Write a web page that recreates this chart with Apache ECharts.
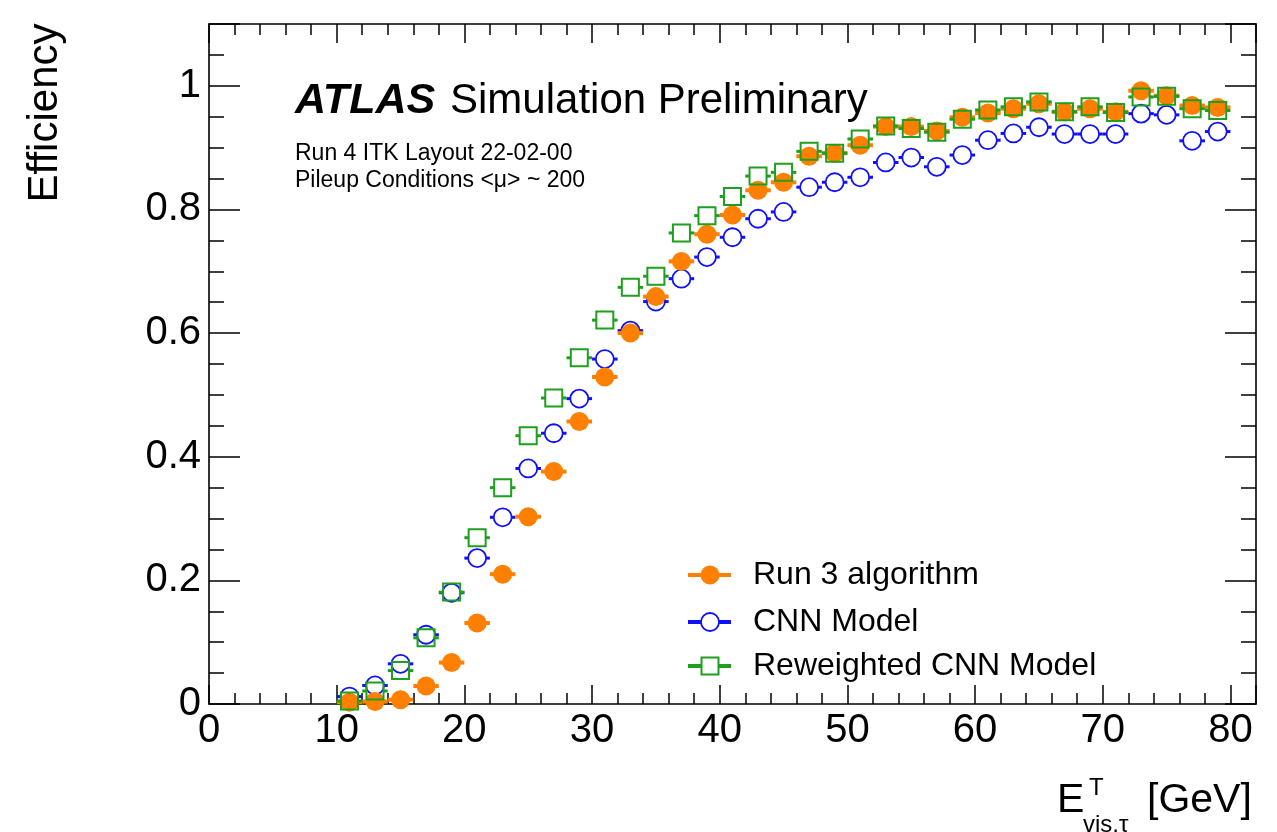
<!DOCTYPE html>
<html>
<head>
<meta charset="utf-8">
<script src="https://cdn.jsdelivr.net/npm/echarts@6/dist/echarts.min.js"></script>
<style>
html,body{margin:0;padding:0;background:#fff;}
#main{width:1277px;height:832px;}
</style>
</head>
<body>
<div id="main"></div>
<script>
// ---- data ----
var binCenters = [11,13,15,17,19,21,23,25,27,29,31,33,35,37,39,41,43,45,47,49,51,53,55,57,59,61,63,65,67,69,71,73,75,77,79];
var binHalfWidth = 1;
var run3Eff = [0.003,0.004,0.007,0.029,0.067,0.131,0.210,0.303,0.376,0.457,0.529,0.600,0.659,0.716,0.760,0.791,0.831,0.844,0.886,0.891,0.904,0.934,0.934,0.927,0.949,0.956,0.963,0.971,0.958,0.963,0.958,0.992,0.984,0.968,0.965];
var cnnEff = [0.012,0.030,0.065,0.112,0.180,0.236,0.302,0.381,0.438,0.494,0.558,0.604,0.651,0.688,0.723,0.755,0.785,0.796,0.836,0.844,0.852,0.876,0.884,0.869,0.888,0.912,0.923,0.933,0.922,0.922,0.922,0.955,0.953,0.911,0.926];
var rwCnnEff = [0.005,0.021,0.054,0.107,0.181,0.269,0.350,0.434,0.495,0.560,0.621,0.674,0.692,0.762,0.790,0.821,0.854,0.860,0.894,0.891,0.914,0.935,0.931,0.925,0.946,0.961,0.966,0.974,0.958,0.966,0.957,0.982,0.983,0.963,0.960];
var seriesNames = ['Run 3 algorithm','CNN Model','Reweighted CNN Model'];
var xTickLabels = ['0','10','20','30','40','50','60','70','80'];
var yTickLabels = ['0','0.2','0.4','0.6','0.8','1'];

// ---- style ----
var FONT = '"Liberation Sans", Arial, Helvetica, sans-serif';
var C_ORANGE = '#ff8000', C_BLUE = '#1010ff', C_GREEN = '#1f9f1f';

function pairs(ys){ return binCenters.map(function(x,i){ return [x, ys[i]]; }); }

function makeRender(kind, color, lw, r){
  return function(params, api){
    var x = api.value(0), y = api.value(1);
    var c = api.coord([x, y]);
    var l = api.coord([x - binHalfWidth, y]);
    var rt = api.coord([x + binHalfWidth, y]);
    var ch = [];
    var ls = {stroke: color, lineWidth: lw};
    if (kind === 'filled') {
      ch.push({type:'line', shape:{x1:l[0],y1:c[1],x2:rt[0],y2:c[1]}, style:ls});
      ch.push({type:'circle', shape:{cx:c[0],cy:c[1],r:r}, style:{fill:color}});
    } else {
      ch.push({type:'line', shape:{x1:l[0],y1:c[1],x2:c[0]-r,y2:c[1]}, style:ls});
      ch.push({type:'line', shape:{x1:c[0]+r,y1:c[1],x2:rt[0],y2:c[1]}, style:ls});
      if (kind === 'circle') {
        ch.push({type:'circle', shape:{cx:c[0],cy:c[1],r:r}, style:{fill:'none', stroke:color, lineWidth:1.8}});
      } else {
        ch.push({type:'rect', shape:{x:c[0]-r,y:c[1]-r,width:2*r,height:2*r}, style:{fill:'none', stroke:color, lineWidth:2}});
      }
    }
    return {type:'group', children: ch};
  };
}

function xAxisCfg(pos, showLabels){
  return {
    type:'value', position:pos, min:0, max:82, interval:10,
    axisLine:{show:true, onZero:false, lineStyle:{color:'#000', width:1.6}},
    axisTick:{show:true, inside:true, length:19, lineStyle:{color:'#000', width:1.5}},
    minorTick:{show:true, splitNumber:5, length:11, lineStyle:{color:'#000', width:1.5}},
    splitLine:{show:false}, minorSplitLine:{show:false},
    axisLabel:{show:showLabels, color:'#000', fontSize:40, fontFamily:FONT, margin:7,
      formatter:function(v){ var i = xTickLabels.indexOf(String(v)); return i>=0 ? xTickLabels[i] : ''; }}
  };
}
function yAxisCfg(pos, showLabels){
  return {
    type:'value', position:pos, min:0, max:1.1, interval:0.2,
    axisLine:{show:true, onZero:false, lineStyle:{color:'#000', width:1.6}},
    axisTick:{show:true, inside:true, length:31, lineStyle:{color:'#000', width:1.5}},
    minorTick:{show:true, splitNumber:4, length:15, lineStyle:{color:'#000', width:1.5}},
    splitLine:{show:false}, minorSplitLine:{show:false},
    axisLabel:{show:showLabels, color:'#000', fontSize:40, fontFamily:FONT, margin:8,
      formatter:function(v){ var k = Math.round(v/0.2); if (Math.abs(v/0.2-k)>1e-6) return ''; return yTickLabels[k] || ''; }}
  };
}

var chart = echarts.init(document.getElementById('main'), null, {renderer:'canvas'});
var option = {
  backgroundColor:'#fff',
  animation:false,
  grid:{left:209, right:21, top:24, bottom:128, outerBoundsMode:'none', containLabel:false},
  xAxis:[xAxisCfg('bottom', true), xAxisCfg('top', false)],
  yAxis:[yAxisCfg('left', true), yAxisCfg('right', false)],
  series:[
    {type:'custom', name:seriesNames[1], xAxisIndex:0, yAxisIndex:0, data:pairs(cnnEff), renderItem:makeRender('circle', C_BLUE, 3, 9), z:2},
    {type:'custom', name:seriesNames[0], xAxisIndex:0, yAxisIndex:0, data:pairs(run3Eff), renderItem:makeRender('filled', C_ORANGE, 4, 9.5), z:3},
    {type:'custom', name:seriesNames[2], xAxisIndex:0, yAxisIndex:0, data:pairs(rwCnnEff), renderItem:makeRender('square', C_GREEN, 3, 8.5), z:4}
  ],
  graphic:[
    // ATLAS label
    {type:'text', left:295, top:80, style:{text:'ATLAS', font:'italic bold 43px '+FONT, fill:'#000'}},
    {type:'text', left:450, top:80, style:{text:'Simulation Preliminary', font:'42px '+FONT, fill:'#000'}},
    {type:'text', left:295, top:142, style:{text:'Run 4 ITK Layout 22-02-00', font:'23px '+FONT, fill:'#000'}},
    {type:'text', left:295, top:169, style:{text:'Pileup Conditions <\u03bc> ~ 200', font:'23px '+FONT, fill:'#000'}},
    // y axis title
    {type:'text', x:45, y:113, rotation:Math.PI/2, style:{text:'Efficiency', font:'42px '+FONT, fill:'#000', align:'center', verticalAlign:'middle'}},
    // x axis title
    {type:'text', x:1057, y:801, style:{text:'E', font:'41px '+FONT, fill:'#000', align:'left', verticalAlign:'middle'}},
    {type:'text', x:1089, y:788, style:{text:'T', font:'24px '+FONT, fill:'#000', align:'left', verticalAlign:'middle'}},
    {type:'text', x:1083, y:825, style:{text:'vis,\u03c4', font:'24px '+FONT, fill:'#000', align:'left', verticalAlign:'middle'}},
    {type:'text', x:1147, y:801, style:{text:'[GeV]', font:'41px '+FONT, fill:'#000', align:'left', verticalAlign:'middle'}},
    // legend
    {type:'line', shape:{x1:688,y1:575,x2:731,y2:575}, style:{stroke:C_ORANGE, lineWidth:4}},
    {type:'circle', shape:{cx:710,cy:575,r:9.5}, style:{fill:C_ORANGE}},
    {type:'text', x:753, y:575, style:{text:seriesNames[0], font:'32px '+FONT, fill:'#000', verticalAlign:'middle'}},
    {type:'line', shape:{x1:688,y1:622,x2:701,y2:622}, style:{stroke:C_BLUE, lineWidth:4}},
    {type:'line', shape:{x1:719,y1:622,x2:731,y2:622}, style:{stroke:C_BLUE, lineWidth:4}},
    {type:'circle', shape:{cx:710,cy:622,r:9}, style:{fill:'none', stroke:C_BLUE, lineWidth:1.8}},
    {type:'text', x:753, y:622, style:{text:seriesNames[1], font:'32px '+FONT, fill:'#000', verticalAlign:'middle'}},
    {type:'line', shape:{x1:688,y1:666,x2:701,y2:666}, style:{stroke:C_GREEN, lineWidth:4}},
    {type:'line', shape:{x1:719,y1:666,x2:731,y2:666}, style:{stroke:C_GREEN, lineWidth:4}},
    {type:'rect', shape:{x:701.5,y:657.5,width:17,height:17}, style:{fill:'none', stroke:C_GREEN, lineWidth:2}},
    {type:'text', x:753, y:666, style:{text:seriesNames[2], font:'32px '+FONT, fill:'#000', verticalAlign:'middle'}}
  ]
};
chart.setOption(option);
</script>
</body>
</html>
